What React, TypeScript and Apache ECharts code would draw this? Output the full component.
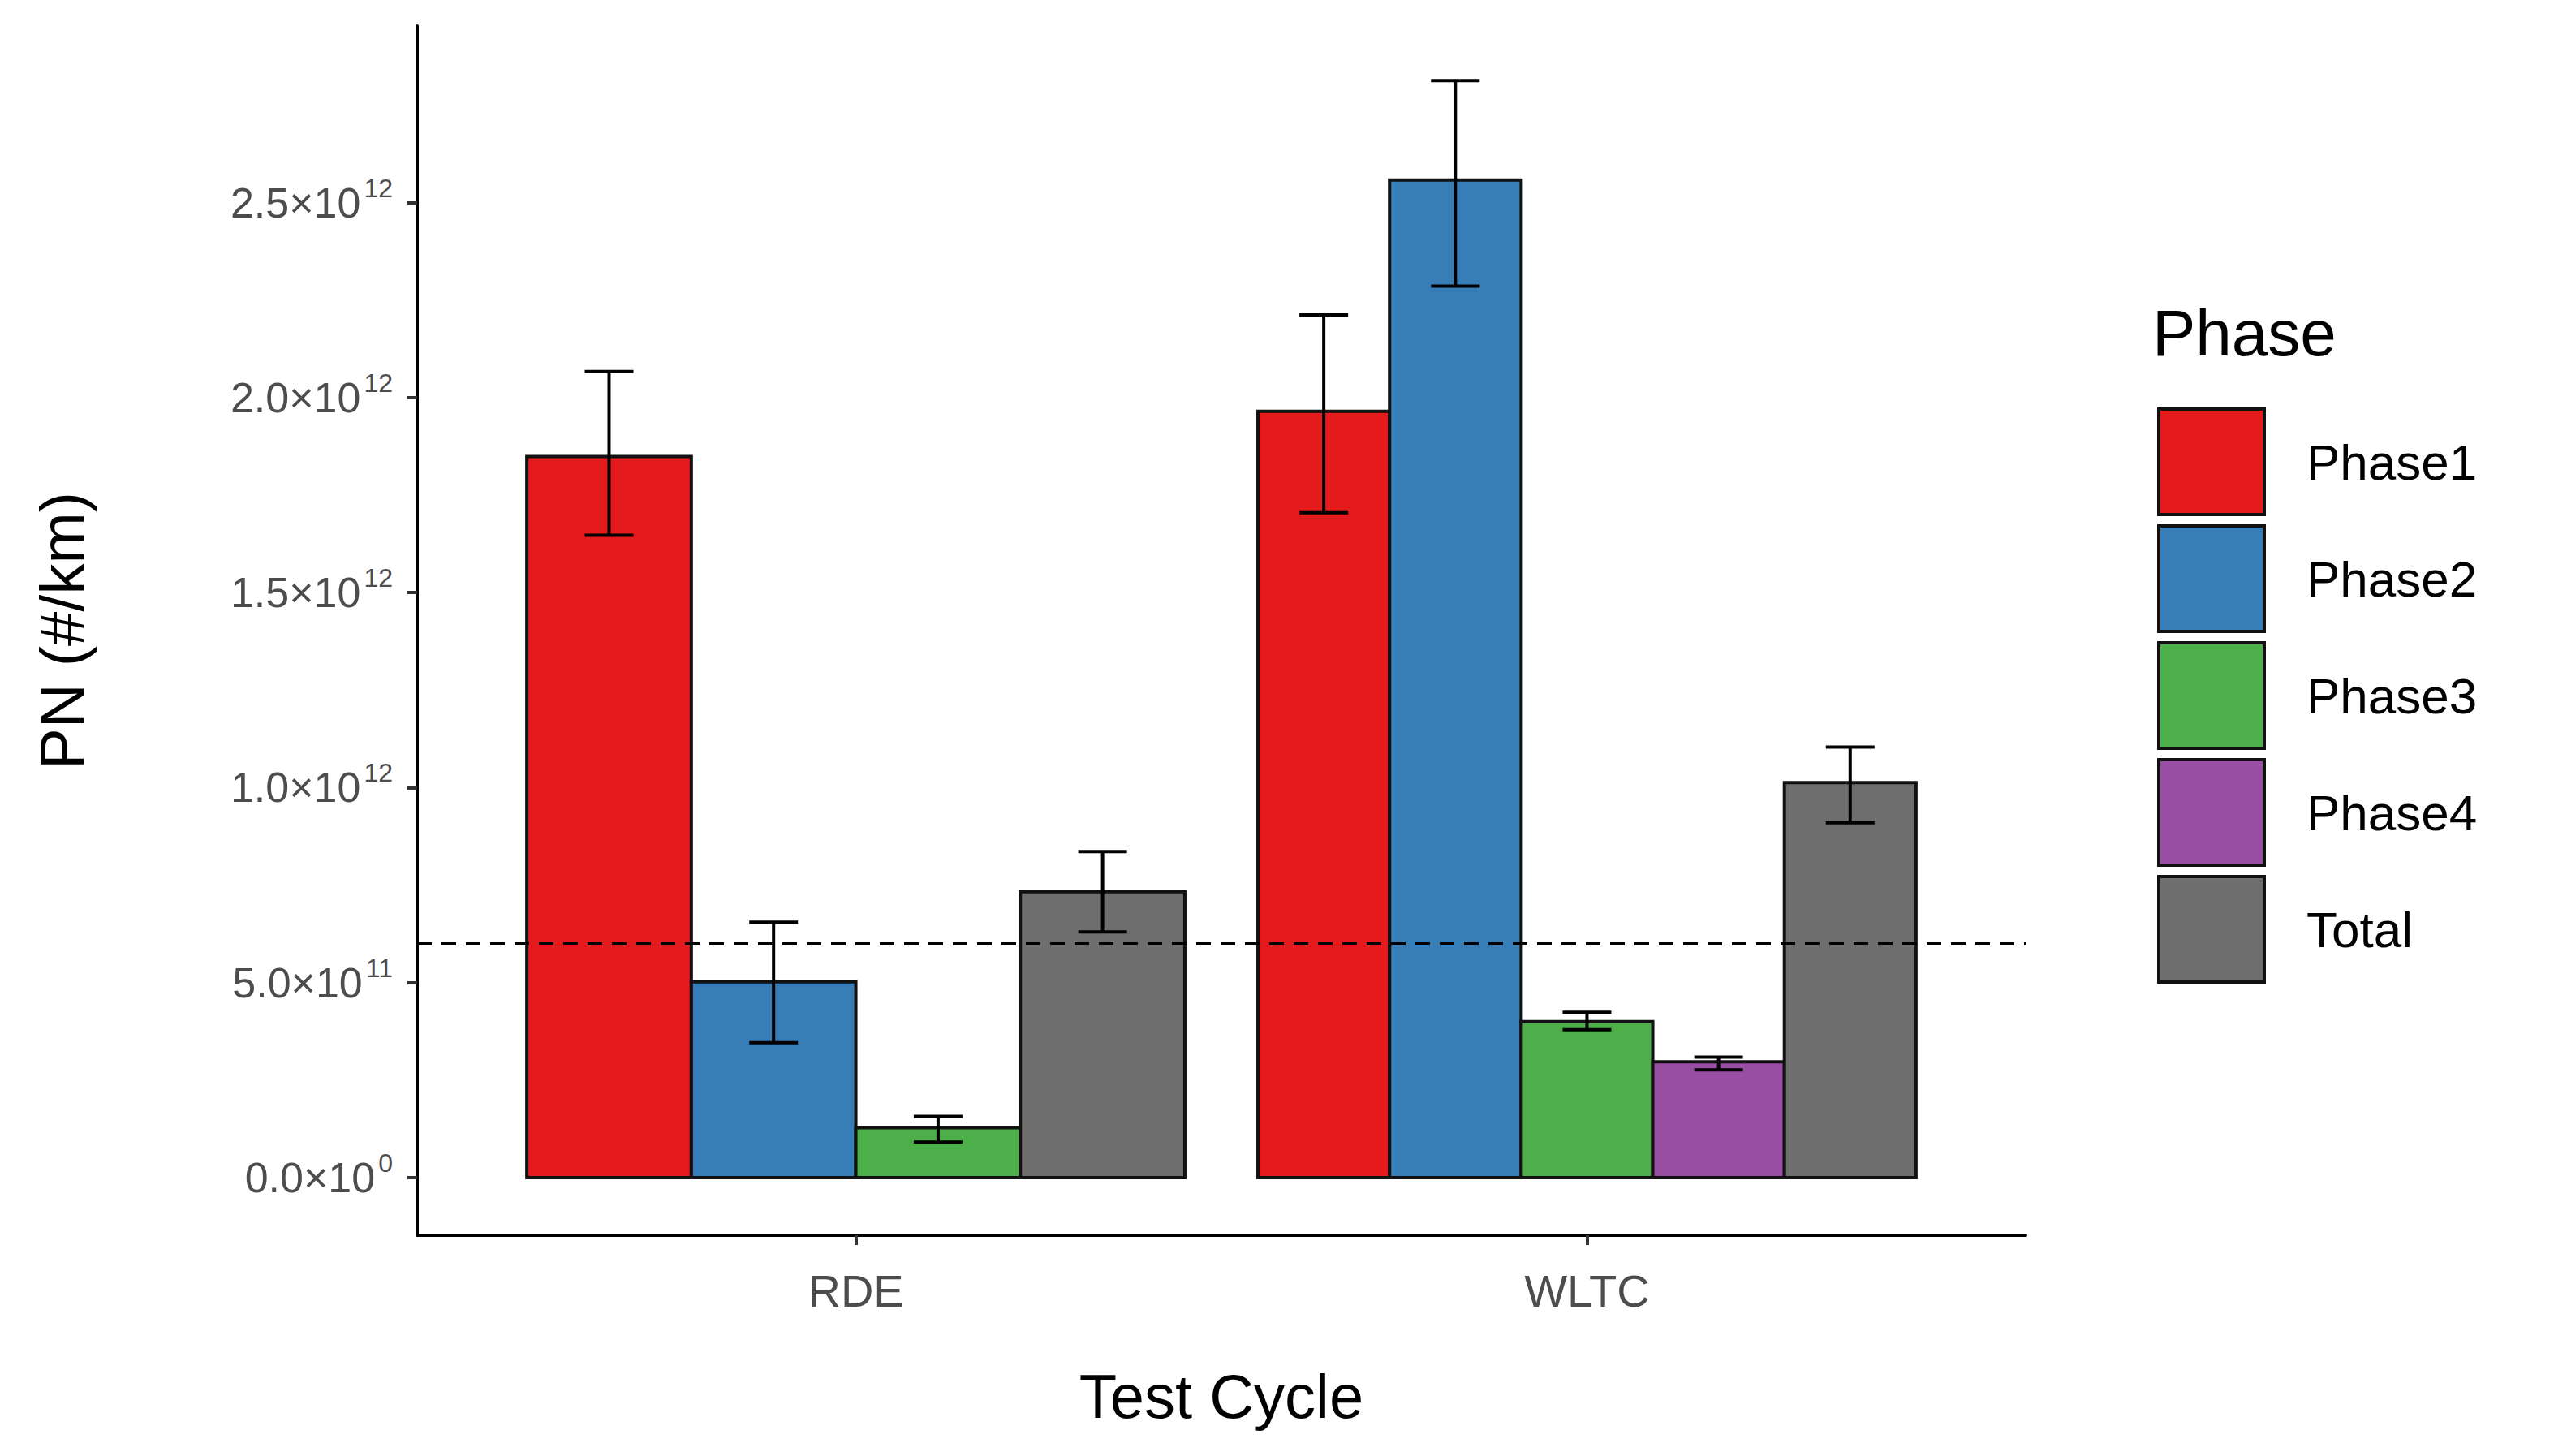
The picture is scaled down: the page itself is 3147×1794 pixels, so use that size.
import { useEffect, useRef } from 'react'
import * as echarts from 'echarts'

const cycles = ['RDE', 'WLTC']
const phases = ['Phase1', 'Phase2', 'Phase3', 'Phase4', 'Total']
const phaseColors = ['#E41A1C', '#377EB8', '#4DAF4A', '#984EA3', '#6E6E6E']

// [cycleIndex, phaseIndex, mean, low, high]
const rdeBars = [
  [0, 0, 1.849e12, 1.647e12, 2.067e12],
  [0, 1, 0.502e12, 0.346e12, 0.655e12],
  [0, 2, 0.128e12, 0.091e12, 0.157e12],
  [0, 4, 0.733e12, 0.63e12, 0.836e12],
]
const wltcBars = [
  [1, 0, 1.965e12, 1.705e12, 2.212e12],
  [1, 1, 2.558e12, 2.286e12, 2.813e12],
  [1, 2, 0.4e12, 0.379e12, 0.424e12],
  [1, 3, 0.297e12, 0.276e12, 0.309e12],
  [1, 4, 1.013e12, 0.91e12, 1.104e12],
]
const limitValue = 6e11

const yTicks = [0, 5e11, 1e12, 1.5e12, 2e12, 2.5e12]
const yTickMantissa = ['0.0', '5.0', '1.0', '1.5', '2.0', '2.5']
const yTickExp = ['0', '11', '12', '12', '12', '12']

export default function App() {
  const chartRef = useRef<HTMLDivElement | null>(null)

  useEffect(() => {
    if (!chartRef.current) return
    const chart = echarts.init(chartRef.current, null, { renderer: 'svg' })

    const data: number[][] = []
    ;[rdeBars, wltcBars].forEach((group) => {
      group.forEach((b, slot) => {
        data.push([b[0] + 1, b[2], slot, group.length, b[3], b[4], b[1]])
      })
    })

    const legendItems: any[] = [
      {
        type: 'text',
        left: 2644,
        top: 362,
        style: { text: 'Phase', fontSize: 80, fill: '#000', fontFamily: 'Liberation Sans' },
      },
    ]
    phases.forEach((p, i) => {
      legendItems.push({
        type: 'rect',
        shape: { x: 2652, y: 496 + i * 144, width: 130, height: 130 },
        style: { fill: phaseColors[i], stroke: '#111', lineWidth: 4 },
      })
      legendItems.push({
        type: 'text',
        x: 2834,
        y: 561 + i * 144,
        style: {
          text: p,
          fontSize: 62,
          fill: '#000',
          verticalAlign: 'middle',
          fontFamily: 'Liberation Sans',
        },
      })
    })

    chart.setOption({
      animation: false,
      textStyle: { fontFamily: 'Liberation Sans' },
      grid: { left: 506, right: 643, top: 24, bottom: 264 },
      xAxis: {
        type: 'value',
        min: 0.4,
        max: 2.6,
        splitLine: { show: false },
        axisLine: { show: true, onZero: false, lineStyle: { color: '#000', width: 4 } },
        axisTick: { show: true, customValues: [1, 2], length: 12, lineStyle: { color: '#333', width: 4 } },
        axisLabel: {
          customValues: [1, 2],
          formatter: (v: number) => cycles[Math.round(v) - 1] ?? '',
          fontSize: 56,
          color: '#4d4d4d',
          margin: 40,
        },
        name: 'Test Cycle',
        nameLocation: 'middle',
        nameGap: 160,
        nameTextStyle: { fontSize: 76, color: '#000' },
      },
      yAxis: {
        type: 'value',
        min: -0.148e12,
        max: 2.953e12,
        splitLine: { show: false },
        axisLine: { show: true, onZero: false, lineStyle: { color: '#000', width: 4 } },
        axisTick: { show: true, customValues: yTicks, length: 12, lineStyle: { color: '#333', width: 4 } },
        axisLabel: {
          customValues: yTicks,
          margin: 30,
          formatter: (v: number) => {
            const i = yTicks.findIndex((t) => Math.abs(t - v) < 1e9)
            if (i < 0) return ''
            return `{m|${yTickMantissa[i]}×10}{e|${yTickExp[i]}}`
          },
          rich: {
            m: { fontSize: 52, color: '#4d4d4d' },
            e: { fontSize: 32, color: '#4d4d4d', padding: [0, 0, 36, 4] },
          },
        },
        name: 'PN (#/km)',
        nameLocation: 'middle',
        nameGap: 400,
        nameTextStyle: { fontSize: 76, color: '#000' },
      },
      graphic: legendItems,
      series: [
        {
          type: 'custom',
          data,
          encode: { x: 0, y: 1 },
          renderItem: (params: any, api: any) => {
            const cat = api.value(0)
            const val = api.value(1)
            const slot = api.value(2)
            const n = api.value(3)
            const lo = api.value(4)
            const hi = api.value(5)
            const color = phaseColors[api.value(6)]
            const total = api.size([0.9, 0])[0]
            const w = total / n
            const base = api.coord([cat, 0])
            const x0 = base[0] - total / 2 + slot * w
            const top = api.coord([cat, val])[1]
            const yLo = api.coord([cat, lo])[1]
            const yHi = api.coord([cat, hi])[1]
            const cx = x0 + w / 2
            const cap = 30
            const ls = { stroke: '#000', lineWidth: 4 }
            return {
              type: 'group',
              children: [
                {
                  type: 'rect',
                  shape: { x: x0, y: top, width: w, height: base[1] - top },
                  style: { fill: color, stroke: '#111', lineWidth: 4 },
                },
                { type: 'line', shape: { x1: cx, y1: yLo, x2: cx, y2: yHi }, style: ls },
                { type: 'line', shape: { x1: cx - cap, y1: yLo, x2: cx + cap, y2: yLo }, style: ls },
                { type: 'line', shape: { x1: cx - cap, y1: yHi, x2: cx + cap, y2: yHi }, style: ls },
              ],
            }
          },
          markLine: {
            silent: true,
            symbol: 'none',
            label: { show: false },
            lineStyle: { color: '#000', type: [18, 12], width: 3 },
            data: [{ yAxis: limitValue }],
          },
        },
      ],
    })

    return () => chart.dispose()
  }, [])

  return <div ref={chartRef} style={{ width: 3131, height: 1778, background: '#fff' }} />
}
